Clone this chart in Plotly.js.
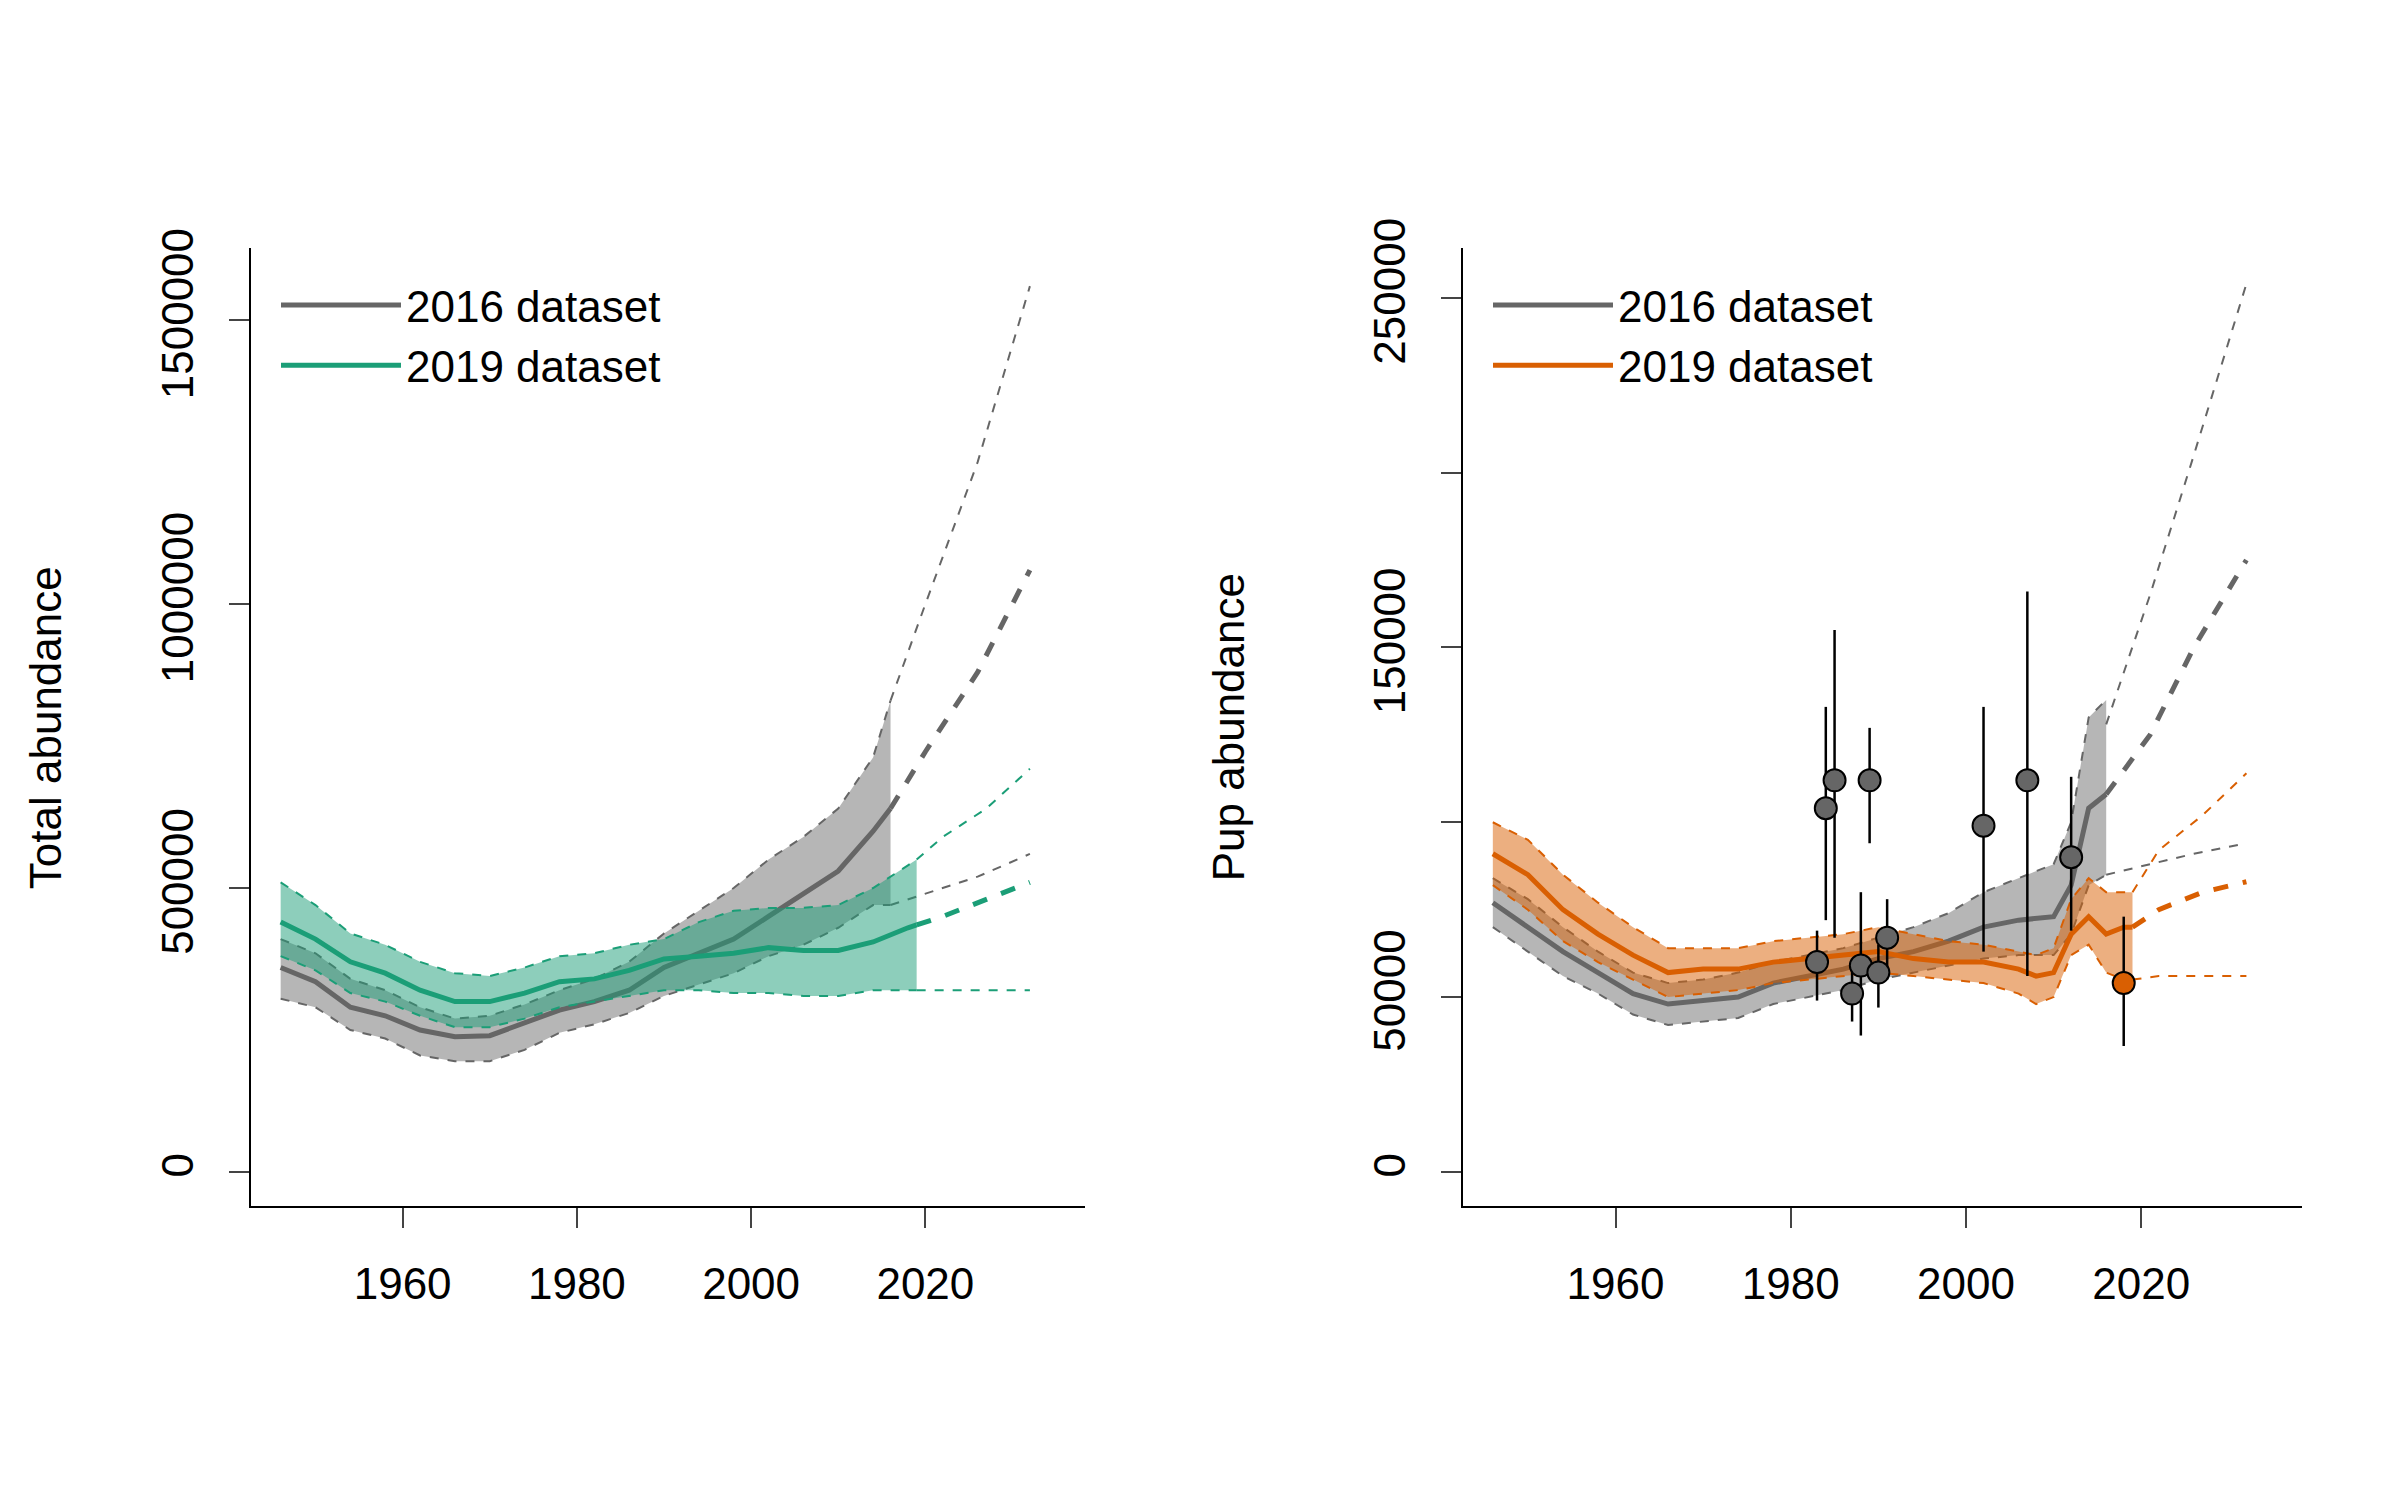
<!DOCTYPE html>
<html><head><meta charset="utf-8">
<script src="https://cdn.plot.ly/plotly-3.0.1.min.js"></script>
<style>body{margin:0;background:#fff}#plot{width:2400px;height:1500px}</style>
</head><body><div id="plot"></div>
<script>
// ---- Total abundance (thousands) ----
const totYears16 = [1946,1950,1954,1958,1962,1966,1970,1974,1978,1982,1986,1990,1994,1998,2002,2006,2010,2014,2016];
const tot16Med = [360,335,290,275,250,238,240,262,285,300,320,360,385,410,450,490,530,600,640];
const tot16Up  = [410,385,340,320,290,270,275,295,320,340,370,420,460,500,550,590,640,730,830];
const tot16Lo  = [305,290,250,235,205,195,195,215,245,260,280,310,330,350,380,400,430,470,470];
const totYears19 = [1946,1950,1954,1958,1962,1966,1970,1974,1978,1982,1986,1990,1994,1998,2002,2006,2010,2014,2018,2019];
const tot19Med = [440,410,370,350,320,300,300,315,335,340,355,375,380,385,395,390,390,405,430,435];
const tot19Up  = [510,470,420,400,370,350,345,360,380,385,400,410,440,460,465,465,470,500,540,550];
const tot19Lo  = [380,355,315,300,275,255,255,270,290,300,310,320,320,315,315,310,310,320,320,320];
const projYears16 = [2016,2020,2026,2032];
const totP16Med = [640,740,880,1060];
const totP16Up  = [830,1000,1250,1560];
const totP16Lo  = [470,490,520,560];
const projYears19 = [2019,2022,2027,2032];
const totP19Med = [435,450,480,510];
const totP19Up  = [550,590,640,710];
const totP19Lo  = [320,320,320,320];

// ---- Pup abundance (thousands) ----
const pupYears16 = [1946,1950,1954,1958,1962,1966,1970,1974,1978,1982,1986,1990,1994,1998,2002,2006,2010,2012,2014,2016];
const pup16Med = [77,70,63,57,51,48,49,50,54,56,58,61,63,66,70,72,73,82,104,108];
const pup16Up  = [84,78,70,63,57,54,55,57,60,62,64,67,70,74,80,84,88,100,130,135];
const pup16Lo  = [70,63,56,51,45,42,43,44,48,50,52,55,57,59,61,62,62,68,82,85];
const pupProjYears16 = [2016,2021,2026,2032];
const pupP16Med = [108,125,150,175];
const pupP16Up  = [128,165,205,254];
const pupP16Lo  = [85,88,91,94];
const pupYears19 = [1946,1950,1954,1958,1962,1966,1970,1974,1978,1982,1986,1990,1994,1998,2002,2006,2008,2010,2012,2014,2016,2018,2019];
const pup19Med = [91,85,75,68,62,57,58,58,60,61,62,63,61,60,60,58,56,57,68,73,68,70,70];
const pup19Up  = [100,95,85,77,70,64,64,64,66,67,68,70,68,66,65,63,62,64,78,84,80,80,80];
const pup19Lo  = [82,75,66,60,55,50,51,52,54,55,56,57,56,55,54,51,48,50,62,65,57,55,55];
const pupProjYears19 = [2019,2022,2027,2032];
const pupP19Med = [70,75,80,83];
const pupP19Up  = [80,92,102,114];
const pupP19Lo  = [55,56,56,56];

// survey pup counts
const obsYears = [1983,1984,1985,1987,1988,1989,1990,1991,2002,2007,2012];
const obsVal   = [60,104,112,51,59,112,57,67,99,112,90];
const obsLo    = [49,72,67,43,39,94,47,55,63,56,69];
const obsHi    = [69,133,155,58,80,127,65,78,133,166,113];
const obs19Year = [2018], obs19Val = [54], obs19Lo = [36], obs19Hi = [73];

const K = v => v.map(d => d * 1000);
const GREY = '#666666', GREEN = '#1b9e77', ORANGE = '#d95f02';

function band(x, lo, up, fill, xa, ya) {
  return {x: x.concat(x.slice().reverse()), y: K(lo).concat(K(up).reverse()),
    fill: 'toself', fillcolor: fill, line: {width: 0}, mode: 'lines',
    hoverinfo: 'skip', showlegend: false, xaxis: xa, yaxis: ya};
}
function line(x, y, color, w, dash, xa, ya, name, leg) {
  return {x: x, y: K(y), mode: 'lines', line: {color: color, width: w, dash: dash},
    xaxis: xa, yaxis: ya, name: name || '', showlegend: !!name, legend: leg};
}

const data = [
  band(totYears16, tot16Lo, tot16Up, 'rgba(110,110,110,0.5)', 'x', 'y'),
  line(totYears16, tot16Up, GREY, 2, 'dash', 'x', 'y'),
  line(totYears16, tot16Lo, GREY, 2, 'dash', 'x', 'y'),
  line(totYears16, tot16Med, GREY, 5, 'solid', 'x', 'y', '2016 dataset', 'legend'),
  line(projYears16, totP16Up, GREY, 2, 'dash', 'x', 'y'),
  line(projYears16, totP16Lo, GREY, 2, 'dash', 'x', 'y'),
  line(projYears16, totP16Med, GREY, 5, 'dash', 'x', 'y'),
  band(totYears19, tot19Lo, tot19Up, 'rgba(27,158,119,0.5)', 'x', 'y'),
  line(totYears19, tot19Up, GREEN, 2, 'dash', 'x', 'y'),
  line(totYears19, tot19Lo, GREEN, 2, 'dash', 'x', 'y'),
  line(projYears19, totP19Up, GREEN, 2, 'dash', 'x', 'y'),
  line(projYears19, totP19Lo, GREEN, 2, 'dash', 'x', 'y'),
  line(projYears19, totP19Med, GREEN, 5, 'dash', 'x', 'y'),
  line(totYears19, tot19Med, GREEN, 5, 'solid', 'x', 'y', '2019 dataset', 'legend'),

  band(pupYears16, pup16Lo, pup16Up, 'rgba(110,110,110,0.5)', 'x2', 'y2'),
  line(pupYears16, pup16Up, GREY, 2, 'dash', 'x2', 'y2'),
  line(pupYears16, pup16Lo, GREY, 2, 'dash', 'x2', 'y2'),
  line(pupYears16, pup16Med, GREY, 5, 'solid', 'x2', 'y2', '2016 dataset', 'legend2'),
  line(pupProjYears16, pupP16Up, GREY, 2, 'dash', 'x2', 'y2'),
  line(pupProjYears16, pupP16Lo, GREY, 2, 'dash', 'x2', 'y2'),
  line(pupProjYears16, pupP16Med, GREY, 5, 'dash', 'x2', 'y2'),
  band(pupYears19, pup19Lo, pup19Up, 'rgba(217,95,2,0.5)', 'x2', 'y2'),
  line(pupYears19, pup19Up, ORANGE, 2, 'dash', 'x2', 'y2'),
  line(pupYears19, pup19Lo, ORANGE, 2, 'dash', 'x2', 'y2'),
  line(pupProjYears19, pupP19Up, ORANGE, 2, 'dash', 'x2', 'y2'),
  line(pupProjYears19, pupP19Lo, ORANGE, 2, 'dash', 'x2', 'y2'),
  line(pupProjYears19, pupP19Med, ORANGE, 5, 'dash', 'x2', 'y2'),
  line(pupYears19, pup19Med, ORANGE, 5, 'solid', 'x2', 'y2', '2019 dataset', 'legend2'),
  {x: obsYears, y: K(obsVal), mode: 'markers', xaxis: 'x2', yaxis: 'y2', showlegend: false,
   marker: {color: GREY, size: 22, line: {color: '#000', width: 2}},
   error_y: {type: 'data', symmetric: false, array: obsHi.map((h, i) => (h - obsVal[i]) * 1000),
     arrayminus: obsVal.map((v, i) => (v - obsLo[i]) * 1000), color: '#000', thickness: 2.5, width: 0}},
  {x: obs19Year, y: K(obs19Val), mode: 'markers', xaxis: 'x2', yaxis: 'y2', showlegend: false,
   marker: {color: ORANGE, size: 22, line: {color: '#000', width: 2}},
   error_y: {type: 'data', symmetric: false, array: [(obs19Hi[0] - obs19Val[0]) * 1000],
     arrayminus: [(obs19Val[0] - obs19Lo[0]) * 1000], color: '#000', thickness: 2.5, width: 0}}
];

const font = {family: 'Liberation Sans, Arial, sans-serif', size: 44, color: '#000'};
const xax = d => ({domain: d, range: [1942.6, 2038.3], showgrid: false, zeroline: false,
  showline: true, linecolor: '#000', linewidth: 2, ticks: 'outside', ticklen: 20, tickwidth: 2,
  ticklabelstandoff: 18, tickvals: [1960, 1980, 2000, 2020], tickfont: font});
const yDom = [0.196, 0.835];

const layout = {
  width: 2400, height: 1500, paper_bgcolor: '#fff', plot_bgcolor: '#fff',
  margin: {l: 0, r: 0, t: 0, b: 0}, font: font, showlegend: true,
  xaxis: xax([0.1046, 0.452]),
  xaxis2: xax([0.6096, 0.959]),
  yaxis: {domain: yDom, anchor: 'x', range: [-60000, 1628000], showgrid: false, zeroline: false,
    showline: true, linecolor: '#000', linewidth: 2, ticks: 'outside', ticklen: 20, tickwidth: 2,
    ticklabelstandoff: 18,
    tickvals: [0, 500000, 1000000, 1500000], ticktext: ['0', '500000', '1000000', '1500000'],
    tickangle: -90, tickfont: font},
  yaxis2: {domain: yDom, anchor: 'x2', range: [-9760, 264400], showgrid: false, zeroline: false,
    showline: true, linecolor: '#000', linewidth: 2, ticks: 'outside', ticklen: 20, tickwidth: 2,
    ticklabelstandoff: 18,
    tickvals: [0, 50000, 100000, 150000, 200000, 250000], ticktext: ['0', '50000', '', '150000', '', '250000'],
    tickangle: -90, tickfont: font},
  legend: {x: 0.115, y: 0.82, xanchor: 'left', yanchor: 'top', bgcolor: 'rgba(0,0,0,0)', font: font,
    tracegroupgap: 0, itemwidth: 120},
  legend2: {x: 0.62, y: 0.82, xanchor: 'left', yanchor: 'top', bgcolor: 'rgba(0,0,0,0)', font: font,
    tracegroupgap: 0, itemwidth: 120},
  annotations: [
    {text: 'Total abundance', xref: 'paper', yref: 'paper', x: 0.008, y: 0.515, textangle: -90,
     showarrow: false, font: font},
    {text: 'Pup abundance', xref: 'paper', yref: 'paper', x: 0.512, y: 0.515, textangle: -90,
     showarrow: false, font: font}
  ]
};

Plotly.newPlot('plot', data, layout, {displayModeBar: false, staticPlot: true});
</script>
</body></html>
